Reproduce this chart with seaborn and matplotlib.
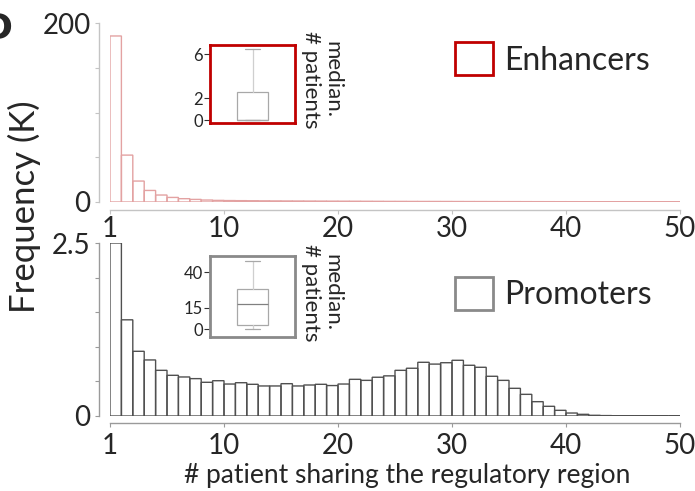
import numpy as np
import matplotlib
matplotlib.use("Agg")
import matplotlib.pyplot as plt
import seaborn as sns
from matplotlib.patches import Patch

# number of patients sharing a regulatory region
patients = list(range(1, 51))

# frequency of regions (thousands) for each patient count
enhancer_freq_k = [185.5, 52.4, 23.4, 12.9, 7.8, 5.1, 3.7, 2.9, 2.2, 1.8,
                   1.6, 1.5, 1.4, 1.3, 1.2, 1.15, 1.1, 1.05, 1.0, 0.95,
                   0.9, 0.85, 0.8, 0.75, 0.7, 0.68, 0.65, 0.62, 0.6, 0.58,
                   0.55, 0.52, 0.5, 0.48, 0.46, 0.44, 0.42, 0.4, 0.38, 0.36,
                   0.35, 0.34, 0.33, 0.32, 0.31, 0.3, 0.3, 0.29, 0.28, 0.28]
promoter_freq_k = [2.50, 1.39, 0.935, 0.81, 0.66, 0.588, 0.564, 0.54, 0.487, 0.51,
                   0.462, 0.481, 0.458, 0.434, 0.434, 0.467, 0.434, 0.448, 0.458, 0.44,
                   0.462, 0.53, 0.515, 0.56, 0.58, 0.66, 0.69, 0.776, 0.75, 0.77,
                   0.805, 0.733, 0.704, 0.574, 0.515, 0.40, 0.313, 0.207, 0.14, 0.082,
                   0.043, 0.024, 0.01, 0.006, 0.004, 0.003, 0.002, 0.002, 0.001, 0.001]

x_tick_labels = ["1", "10", "20", "30", "40", "50"]

# median number of patients per region: box summaries
enhancer_box = {"whislo": 0.0, "q1": 0.0, "med": 0.0, "q3": 2.57, "whishi": 6.5}
promoter_box = {"whislo": 0.0, "q1": 2.8, "med": 17.6, "q3": 28.1, "whishi": 48.0}
enhancer_box_ticks = [0, 2, 6]
promoter_box_ticks = [0, 15, 40]

sns.set_style("ticks")
plt.rcParams["font.family"] = ["Lato", "DejaVu Sans"]

ENH_BAR = "#e3a2a2"
ENH_FRAME = "#c00000"
PRO_BAR = "#505050"
PRO_FRAME = "#8a8a8a"

W, H = 695, 491
fig = plt.figure(figsize=(W / 100, H / 100), dpi=100)


def fx(px):
    return px / W


def fy(py):
    return 1 - py / H


def panel(rect, freq, bar_color, spine_color, ymax, yticks, ylabels,
          bottom_off, xpad):
    ax = fig.add_axes(rect)
    sns.histplot(x=patients, weights=freq, binwidth=1,
                 binrange=(patients[0], patients[-1] + 1),
                 fill=False, color=bar_color, linewidth=1.0, snap=False, ax=ax)
    ax.set_xlim(patients[0], patients[-1] + 1)
    ax.set_ylim(0, ymax)
    ax.set_xlabel("")
    ax.set_ylabel("")
    for s in ("top", "right"):
        ax.spines[s].set_visible(False)
    ax.spines["left"].set_position(("outward", 11 * 0.72))
    ax.spines["bottom"].set_position(("outward", bottom_off * 0.72))
    for s in ("left", "bottom"):
        ax.spines[s].set_color(spine_color)
        ax.spines[s].set_linewidth(1.0)
    tick_pos = [patients[0]] + [int(t) + 1 for t in x_tick_labels[1:]]
    ax.set_xticks(tick_pos)
    ax.set_xticklabels(x_tick_labels)
    ax.set_yticks(yticks)
    ax.set_yticklabels(ylabels)
    ax.tick_params(axis="both", length=3, width=0.8, color=spine_color,
                   labelsize=20)
    ax.tick_params(axis="x", pad=xpad)
    ax.tick_params(axis="y", pad=3)
    return ax


ax_top = panel([fx(110), fy(202), fx(570), (202 - 23) / H],
               enhancer_freq_k, ENH_BAR, "#c4c4c4", 200,
               [0, 50, 100, 150, 200], ["0", "", "", "", "200"], 8, 1)
ax_bot = panel([fx(110), fy(416), fx(570), (416 - 243) / H],
               promoter_freq_k, PRO_BAR, "#9a9a9a", 2.5,
               [0, 0.5, 1.0, 1.5, 2.0, 2.5], ["0", "", "", "", "", "2.5"], 7, 4)

legend_kw = dict(loc="center left", frameon=False, fontsize=23,
                 handlelength=1.2, handleheight=1.2, handletextpad=0.35,
                 borderpad=0, borderaxespad=0)
ax_top.legend(handles=[Patch(facecolor="white", edgecolor=ENH_FRAME,
                             linewidth=2, label="Enhancers")],
              bbox_to_anchor=(0.605, 0.799), **legend_kw)
ax_bot.legend(handles=[Patch(facecolor="white", edgecolor=PRO_FRAME,
                             linewidth=2, label="Promoters")],
              bbox_to_anchor=(0.605, 0.708), **legend_kw)

ax_bot.set_xlabel("# patient sharing the regulatory region", fontsize=19)
ax_bot.xaxis.set_label_coords((407 - 110) / 570, -0.27)

fig.text(fx(24), fy(207), "Frequency (K)", rotation=90, fontsize=25,
         ha="center", va="center")
fig.text(fx(13), fy(29), "D", fontsize=26, fontweight="bold",
         ha="right", va="center", family="DejaVu Sans")


def inset(rect_px, stats, ylim, ticks, frame_color, median_color):
    x0, y0, x1, y1 = rect_px
    ax = fig.add_axes([fx(x0), fy(y1), fx(x1 - x0), (y1 - y0) / H])
    ax.bxp([stats], positions=[0], widths=0.36, capwidths=0.17,
           showfliers=False, patch_artist=True,
           boxprops=dict(facecolor="white", edgecolor="#a8a8a8", linewidth=0.9),
           whiskerprops=dict(color="#cfcfcf", linewidth=0.9),
           capprops=dict(color="#a8a8a8", linewidth=0.9),
           medianprops=dict(color=median_color, linewidth=0.9))
    ax.set_xlim(-0.5, 0.5)
    ax.set_ylim(*ylim)
    ax.set_xticks([])
    ax.set_yticks(ticks)
    ax.tick_params(axis="y", length=4, width=0.8, color="#333333",
                   labelsize=12, pad=1)
    for s in ax.spines.values():
        s.set_visible(True)
        s.set_color(frame_color)
        s.set_linewidth(2.0)
    ax.yaxis.set_label_position("right")
    ax.set_ylabel("median.\n# patients", rotation=270, fontsize=16,
                  ha="center", va="center", multialignment="center",
                  linespacing=1.1)
    ax.yaxis.set_label_coords((322 - x0) / (x1 - x0), 0.55)
    return ax


inset((210, 45, 295, 122.7), enhancer_box, (-0.245, 6.82),
      enhancer_box_ticks, ENH_FRAME, "#a8a8a8")
inset((210, 256, 295, 336.7), promoter_box, (-5.4, 51.3),
      promoter_box_ticks, PRO_FRAME, "#808080")

fig.savefig("out.png", dpi=100)
